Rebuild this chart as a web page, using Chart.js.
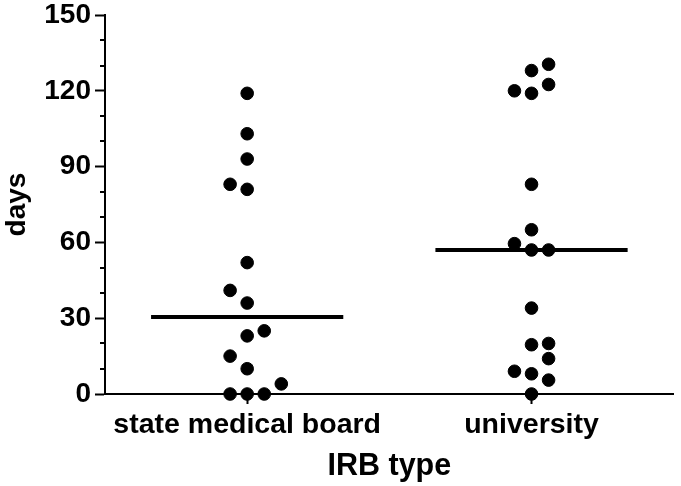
<!DOCTYPE html>
<html>
<head>
<meta charset="utf-8">
<script src="https://cdn.jsdelivr.net/npm/chart.js@4.4.1/dist/chart.umd.min.js"></script>
<style>
  html, body { margin: 0; padding: 0; background: #fff; }
  #contenedor { width: 681px; height: 486px; }
</style>
</head>
<body>
<div id="contenedor"><canvas id="chart_irb"></canvas></div>
<script>
/**
 * Días por tipo de IRB: puntos individuales + mediana de cada grupo.
 */
const categorias = ['state medical board', 'university'];
const diasEstatal = [119, 103, 93, 83, 81, 52, 41, 36, 25, 23, 15, 10, 4, 0, 0, 0];
const columnaEstatal = [0, 0, 0, -1, 0, 0, -1, 0, 1, 0, -1, 0, 2, -1, 0, 1];
const diasUniversidad = [130.5, 128, 122.5, 120, 119, 83, 65, 59.5, 57, 57, 34, 20, 19.5, 14, 9, 8, 5.5, 0];
const columnaUniversidad = [1, 0, 1, -1, 0, 0, 0, -1, 0, 1, 0, 1, 0, 1, -1, 0, 1, 0];
const ticksY = [0, 30, 60, 90, 120, 150];

const SEPARACION = 0.06, MEDIO_ANCHO = 0.338;
const fuente = '"Liberation Sans", Arial, sans-serif';

/** Mediana simple */
function mediana(arr) {
    const s = [...arr].sort((a, b) => a - b), n = s.length;
    return n % 2 ? s[(n - 1) / 2] : (s[n / 2 - 1] + s[n / 2]) / 2;
}

const puntos = (dias, cols, idx) => dias.map((y, i) => ({ x: idx + 1 + cols[i] * SEPARACION, y }));
const lineaMediana = (dias, idx) => {
    const m = mediana(dias);
    return [{ x: idx + 1 - MEDIO_ANCHO, y: m }, { x: idx + 1 + MEDIO_ANCHO, y: m }];
};

/** Ticks menores del eje Y (cada 10) */
const ticksMenores = {
    id: 'ticksMenores',
    afterDraw(chart) {
        const esc = chart.scales.y, ctx = chart.ctx;
        ctx.save(); ctx.strokeStyle = '#000'; ctx.lineWidth = 2;
        for (let v = ticksY[0]; v <= ticksY[ticksY.length - 1]; v += 10) {
            if (ticksY.includes(v)) continue;
            const py = Math.round(esc.getPixelForValue(v));
            ctx.beginPath(); ctx.moveTo(esc.right - 5, py); ctx.lineTo(esc.right, py); ctx.stroke();
        }
        ctx.restore();
    }
};

const estiloPunto = { type: 'scatter', backgroundColor: '#000', borderColor: '#000', pointRadius: 6.3, pointHoverRadius: 6.3, clip: false };
const estiloLinea = { type: 'line', borderColor: '#000', borderWidth: 4, pointRadius: 0, fill: false, clip: false };

new Chart(document.getElementById('chart_irb'), {
    type: 'scatter',
    data: {
        datasets: [
            { ...estiloLinea, data: lineaMediana(diasEstatal, 0) },
            { ...estiloLinea, data: lineaMediana(diasUniversidad, 1) },
            { ...estiloPunto, data: puntos(diasEstatal, columnaEstatal, 0) },
            { ...estiloPunto, data: puntos(diasUniversidad, columnaUniversidad, 1) }
        ]
    },
    options: {
        responsive: true, maintainAspectRatio: false, animation: false,
        layout: { padding: { top: 15, right: 0, left: 0, bottom: 0 } },
        plugins: { legend: { display: false }, tooltip: { enabled: false } },
        scales: {
            x: {
                type: 'linear', min: 0.5, max: 2.5,
                afterBuildTicks: (s) => { s.ticks = categorias.map((_, i) => ({ value: i + 1 })); },
                afterFit: (s) => { s.height = 92; },
                ticks: { color: '#000', padding: 4, autoSkip: false, maxRotation: 0, font: { family: fuente, size: 28.5, weight: 'bold' },
                    callback: (v) => categorias[v - 1] ?? '' },
                grid: { drawOnChartArea: false, tickLength: 10, tickColor: '#000', tickWidth: 2 },
                border: { color: '#000', width: 2 },
                title: { display: true, text: 'IRB type', color: '#000', padding: { top: 0, bottom: 1 }, font: { family: fuente, size: 30.5, weight: 'bold' } }
            },
            y: {
                min: ticksY[0], max: ticksY[ticksY.length - 1],
                afterBuildTicks: (s) => { s.ticks = ticksY.map(v => ({ value: v })); },
                afterFit: (s) => { s.width = 105; },
                ticks: { color: '#000', padding: 4, font: { family: fuente, size: 28, weight: 'bold', lineHeight: 0.5 } },
                grid: { drawOnChartArea: false, tickLength: 10, tickColor: '#000', tickWidth: 2 },
                border: { color: '#000', width: 2 },
                title: { display: true, text: 'days', color: '#000', padding: { top: 0, bottom: 0 }, font: { family: fuente, size: 28, weight: 'bold' } }
            }
        }
    },
    plugins: [ticksMenores]
});
</script>
</body>
</html>
